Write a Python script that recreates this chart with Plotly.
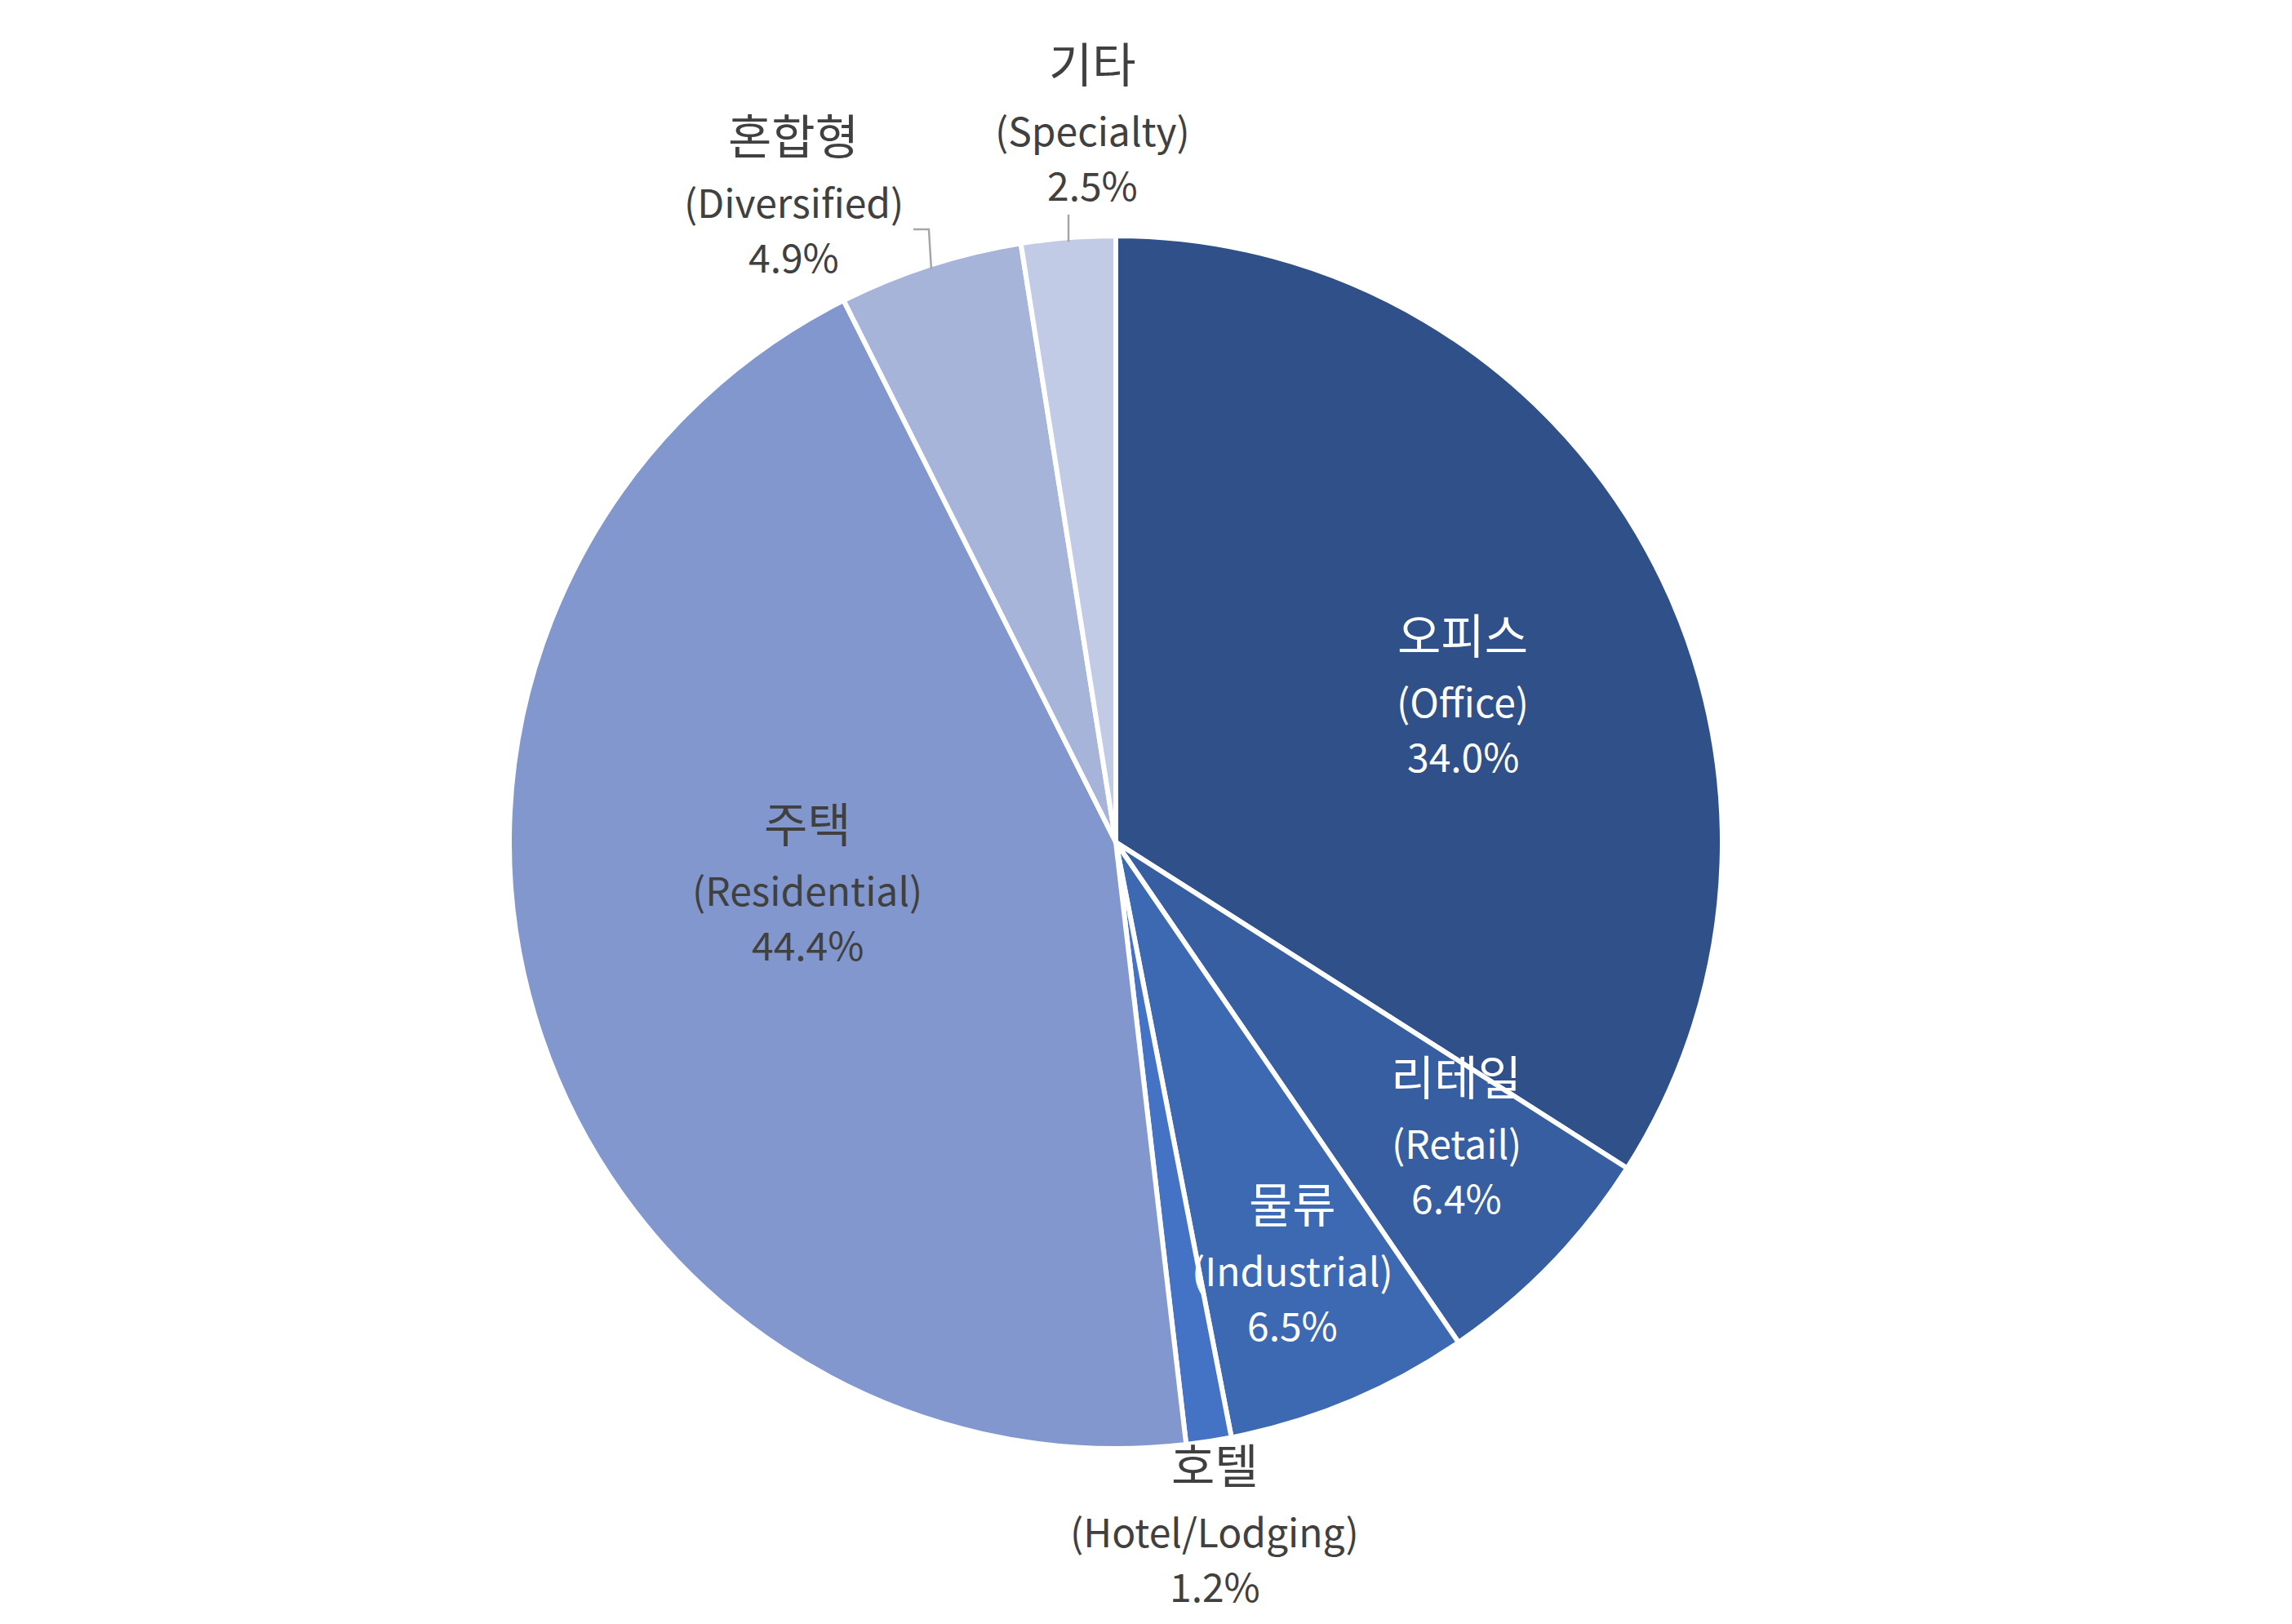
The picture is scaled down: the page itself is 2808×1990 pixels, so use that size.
import math
import plotly.graph_objects as go

W, H = 2808, 1990
OFF = 8  # page body margin, pixels
CX, CY, R = 1367, 1032, 738  # pie centre and radius in pixels

# data
labels_ko = ["오피스", "리테일", "물류", "호텔", "주택", "혼합형", "기타"]
labels_en = ["Office", "Retail", "Industrial", "Hotel/Lodging", "Residential", "Diversified", "Specialty"]
values = [34.0, 6.4, 6.5, 1.2, 44.4, 4.9, 2.5]

# style
colors = ["#2F5089", "#365EA1", "#3D69B3", "#4472C4", "#8297CE", "#A7B4D9", "#C1CBE5"]
text_colors = ["white", "white", "white", "#404040", "#404040", "#404040", "#404040"]
# centre of the english line of each label, pixels
label_xy = [(1792, 858), (1784, 1399), (1583, 1555), (1488, 1875),
            (989, 1089), (972, 246), (1338, 158)]

FONT = "Noto Sans CJK KR"
KO_SIZE = 58
EN_SIZE = 48


def px(x, y):
    return (x - OFF) / W, 1 - (y - OFF) / H


RD = R + 5  # plotly draws the pie slightly inside its domain
x0, y0 = px(CX - RD, CY + RD)
x1, y1 = px(CX + RD, CY - RD)

fig = go.Figure(go.Pie(
    labels=labels_en,
    values=values,
    sort=False,
    direction="clockwise",
    rotation=0,
    textinfo="none",
    hoverinfo="label+percent",
    marker=dict(colors=colors, line=dict(color="white", width=6)),
    domain=dict(x=[x0, x1], y=[y0, y1]),
    showlegend=False,
))

total = sum(values)
for ko, en, v, tc, (lx, ly) in zip(labels_ko, labels_en, values, text_colors, label_xy):
    for txt, dy, size in [(ko, -82, KO_SIZE), (f"({en})", 0, EN_SIZE), (f"{v / total * 100:.1f}%", 67, EN_SIZE)]:
        ax, ay = px(lx, ly + dy)
        fig.add_annotation(x=ax, y=ay, xref="paper", yref="paper", text=txt, showarrow=False,
                           xanchor="center", yanchor="middle",
                           font=dict(family=FONT, size=size, color=tc))

# leader lines for the two small slices at the top
cum = 0
mids = []
for v in values:
    mids.append((cum + v / 2) / total * 2 * math.pi)
    cum += v


def rim(i):
    a = mids[i]
    return CX + R * math.sin(a), CY - R * math.cos(a)


sx, sy = rim(6)
dx, dy = rim(5)
leaders = [
    [(sx, sy), (sx, 263)],
    [(dx, dy), (dx - 3, 281), (1119, 281)],
]
for pts in leaders:
    path = "M " + " L ".join(f"{px(x, y)[0]},{px(x, y)[1]}" for x, y in pts)
    fig.add_shape(type="path", path=path, xref="paper", yref="paper",
                  line=dict(color="#A6A6A6", width=2.5))

fig.update_layout(
    width=W, height=H,
    margin=dict(l=0, r=0, t=0, b=0),
    paper_bgcolor="white",
    plot_bgcolor="white",
)

fig.write_html("out.html")
